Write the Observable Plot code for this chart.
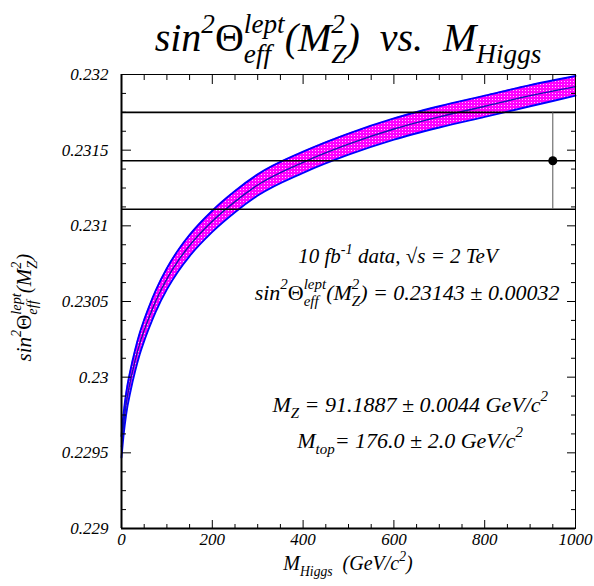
<!DOCTYPE html>
<html>
<head>
<meta charset="utf-8">
<script src="https://cdn.jsdelivr.net/npm/d3@7"></script>
<script src="https://cdn.jsdelivr.net/npm/@observablehq/plot@0.6"></script>
<style>
  html, body { margin: 0; padding: 0; background: white; }
  #wrap { position: relative; width: 594px; height: 586px; overflow: hidden; font-family: "Liberation Serif", "Times New Roman", serif; font-style: italic; color: black; }
  .lbl { position: absolute; white-space: nowrap; line-height: 1; }
  .up { font-style: normal; }
  sup, sub { font-size: 0.68em; position: relative; vertical-align: baseline; line-height: 0; }
  sup { top: -0.68em; }
  sub { top: 0.42em; }
  .st { display: inline-grid; font-size: 0.68em; line-height: 1; vertical-align: baseline; }
  .st > span { grid-area: 1 / 1; position: relative; justify-self: start; }
  .st > .u { top: -0.68em; }
  .st > .d { top: 0.42em; }
</style>
</head>
<body>
<div id="wrap"></div>
<script>
// ---- data ----
const mass   = [0, 5, 10, 20, 30, 40, 50, 60, 75, 100, 125, 150, 200, 250, 300, 400, 500, 600, 700, 800, 900, 1000];
const center = [0.22954, 0.22970, 0.22982, 0.22998, 0.23011, 0.23022, 0.23031, 0.23039, 0.23050, 0.23065, 0.23077, 0.23087, 0.23103, 0.23116, 0.23127, 0.23142, 0.23154, 0.23164, 0.23172, 0.23179, 0.23186, 0.23192];
const upper  = [0.22961, 0.22977, 0.22989, 0.23005, 0.23018, 0.23029, 0.23038, 0.23046, 0.23057, 0.23072, 0.23084, 0.23094, 0.23110, 0.23123, 0.23134, 0.23149, 0.23161, 0.23171, 0.23179, 0.23186, 0.23193, 0.23199];
const lower  = [0.22947, 0.22963, 0.22975, 0.22991, 0.23004, 0.23015, 0.23024, 0.23032, 0.23043, 0.23058, 0.23070, 0.23080, 0.23096, 0.23109, 0.23120, 0.23135, 0.23147, 0.23157, 0.23165, 0.23172, 0.23179, 0.23186];

const measMass  = [950];
const measValue = [0.23143];
const measError = [0.00032];

const xMajorTicks = [0, 200, 400, 600, 800, 1000];
const xMinorTicks = [50, 100, 150, 250, 300, 350, 450, 500, 550, 650, 700, 750, 850, 900, 950];
const yMajorTicks = [0.229, 0.2295, 0.230, 0.2305, 0.231, 0.2315, 0.232];
const yTickLabels = ["0.229", "0.2295", "0.23", "0.2305", "0.231", "0.2315", "0.232"];
const yMinorTicks = [0.229125, 0.22925, 0.229375, 0.229625, 0.22975, 0.229875, 0.230125, 0.23025, 0.230375, 0.230625, 0.23075, 0.230875, 0.231125, 0.23125, 0.231375, 0.231625, 0.23175, 0.231875];

// ---- tables built from the arrays ----
const band = mass.map((m, i) => ({m, c: center[i], hi: upper[i], lo: lower[i]}));
const meas = measMass.map((m, i) => ({m, v: measValue[i], hi: measValue[i] + measError[i], lo: measValue[i] - measError[i]}));
const refLines = [meas[0].hi, meas[0].v, meas[0].lo];

const curve = "monotone-x";
const defs = () => {
  const g = d3.create("svg:defs");
  const p = g.append("pattern").attr("id", "hatch").attr("patternUnits", "userSpaceOnUse").attr("width", 3).attr("height", 3);
  p.append("rect").attr("width", 3).attr("height", 3).attr("fill", "#ff00ff");
  p.append("rect").attr("width", 1).attr("height", 1).attr("fill", "#ffc8ff");
  return g.node();
};

const plot = Plot.plot({
  width: 594, height: 586,
  marginLeft: 121, marginRight: 19, marginTop: 74, marginBottom: 58,
  x: {domain: [0, 1000], label: null},
  y: {domain: [0.229, 0.232], label: null},
  style: {fontFamily: "'Liberation Serif', serif", fontStyle: "italic", fontSize: "17px", color: "black", background: "transparent", overflow: "visible"},
  marks: [
    defs,
    Plot.areaY(band, {x: "m", y1: "lo", y2: "hi", fill: "url(#hatch)", curve}),
    Plot.line(band, {x: "m", y: "hi", stroke: "#0000ff", strokeWidth: 1.9, curve}),
    Plot.line(band, {x: "m", y: "lo", stroke: "#0000ff", strokeWidth: 1.9, curve}),
    Plot.line(band, {x: "m", y: "c", stroke: "#1414b4", strokeWidth: 1.4, curve}),
    Plot.ruleY(refLines, {stroke: "black", strokeWidth: 1.6}),
    Plot.ruleX(meas, {x: "m", y1: "lo", y2: "hi", stroke: "#555", strokeWidth: 1}),
    Plot.dot(meas, {x: "m", y: "v", r: 4.5, fill: "black"}),
    Plot.frame({stroke: "black", strokeWidth: 1}),
    Plot.ruleX([0], {stroke: "black", strokeWidth: 2}),
    Plot.ruleY([0.229], {stroke: "black", strokeWidth: 2}),
    Plot.axisX({anchor: "bottom", ticks: xMajorTicks, tickSize: -8, tickPadding: 12, tickFormat: d => String(d), label: null}),
    Plot.axisX({anchor: "bottom", ticks: xMinorTicks, tickSize: -4, text: null, label: null}),
    Plot.axisX({anchor: "top", ticks: xMajorTicks, tickSize: -9, text: null, label: null}),
    Plot.axisX({anchor: "top", ticks: xMinorTicks, tickSize: -5, text: null, label: null}),
    Plot.axisY({anchor: "left", ticks: yMajorTicks, tickSize: -10, tickPadding: 23, tickFormat: d => yTickLabels[yMajorTicks.indexOf(d)], label: null}),
    Plot.axisY({anchor: "left", ticks: yMinorTicks, tickSize: -5, text: null, label: null}),
    Plot.axisY({anchor: "right", ticks: yMajorTicks, tickSize: -9, text: null, label: null}),
    Plot.axisY({anchor: "right", ticks: yMinorTicks, tickSize: -5, text: null, label: null})
  ]
});

const wrap = document.getElementById("wrap");
wrap.appendChild(plot);

// ---- text overlays, positioned with the plot's scales ----
const xs = plot.scale("x"), ys = plot.scale("y");
function addLabel(html, px, baseline, size, opts = {}) {
  const d = document.createElement("div");
  d.className = "lbl";
  d.innerHTML = html;
  d.style.fontSize = size + "px";
  d.style.top = (baseline - 0.84 * size) + "px";
  d.style.left = px + "px";
  d.style.transform = opts.rotate ? "translate(-50%, 0) rotate(-90deg)" : "translate(-50%, 0)";
  if (opts.rotate) d.style.transformOrigin = "50% " + (0.84 * size) + "px";
  wrap.appendChild(d);
  return d;
}
const sinTheta = 'sin<sup>2</sup><span class="up">&Theta;</span><span class="st"><span class="u">lept</span><span class="d">eff</span></span>(M<span class="st"><span class="u">2</span><span class="d">Z</span></span>)';
const frameMid = (xs.apply(0) + xs.apply(1000)) / 2;

addLabel(sinTheta + '&nbsp;&nbsp;vs.&nbsp;&nbsp;M<sub>Higgs</sub>', frameMid, 52, 40);
addLabel('M<sub>Higgs</sub>&nbsp;&nbsp;(GeV/c<sup>2</sup>)', frameMid, 570, 20);
addLabel(sinTheta, 32, (ys.apply(0.229) + ys.apply(0.232)) / 2 + 7, 21, {rotate: true});

addLabel('10 fb<sup>-1</sup> data, &radic;s = 2 TeV', xs.apply(610), 264, 21);
addLabel(sinTheta + ' = 0.23143 &plusmn; 0.00032', xs.apply(630), 300, 22);
addLabel('M<sub>Z</sub> = 91.1887 &plusmn; 0.0044 GeV/c<sup>2</sup>', xs.apply(637), 412, 22);
addLabel('M<sub>top</sub>= 176.0 &plusmn; 2.0 GeV/c<sup>2</sup>', xs.apply(637), 448, 22);
</script>
</body>
</html>
